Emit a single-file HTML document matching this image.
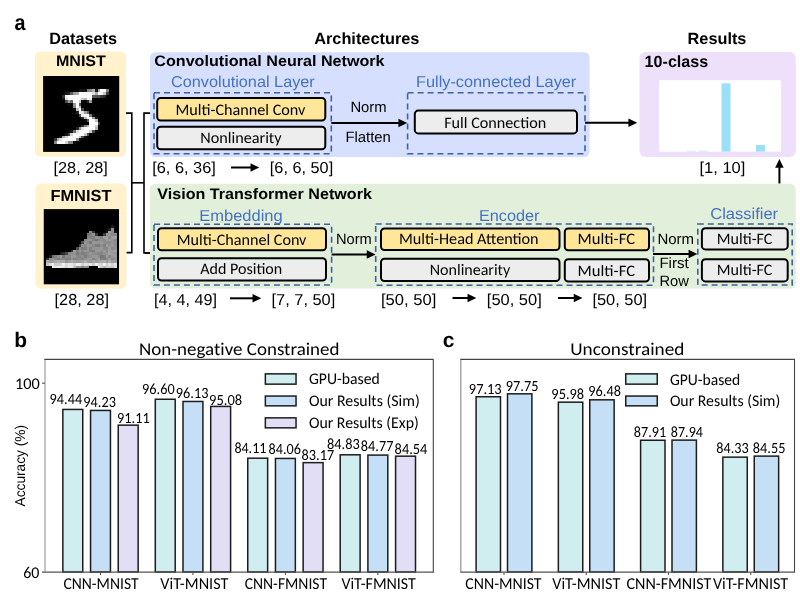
<!DOCTYPE html>
<html><head><meta charset="utf-8"><title>Figure</title><style>
html,body{margin:0;padding:0;background:#fff;}
svg{display:block;will-change:transform;}
text{text-rendering:geometricPrecision;}
.ar{font-family:"Liberation Sans",Arial,Helvetica,sans-serif;}
.ca{font-family:Carlito,"Liberation Sans",Arial,sans-serif;}
.cc{font-family:Carlito,"Liberation Sans",Arial,sans-serif;font-variant-ligatures:none;font-feature-settings:"liga" 0;}
</style></head><body>
<svg width="800" height="597" viewBox="0 0 800 597">
<rect x="0" y="0" width="800" height="597" fill="#fff"/>
<text x="14.40" y="29.60" font-size="22" class="ar" font-weight="bold" textLength="11.00" lengthAdjust="spacingAndGlyphs">a</text>
<text x="49.30" y="43.75" font-size="16.3" class="ar" font-weight="bold" textLength="67.80" lengthAdjust="spacingAndGlyphs">Datasets</text>
<text x="314.20" y="43.75" font-size="16.3" class="ar" font-weight="bold" textLength="105.20" lengthAdjust="spacingAndGlyphs">Architectures</text>
<text x="687.60" y="44.10" font-size="16.3" class="ar" font-weight="bold" textLength="58.80" lengthAdjust="spacingAndGlyphs">Results</text>
<rect x="34.90" y="51.50" width="91.10" height="105.20" rx="5.5" fill="#FFF2CC"/>
<rect x="35.30" y="183.60" width="91.30" height="105.10" rx="5.5" fill="#FFF2CC"/>
<text x="55.90" y="66.25" font-size="15.4" class="ar" font-weight="bold" textLength="50.00" lengthAdjust="spacingAndGlyphs">MNIST</text>
<text x="50.40" y="201.10" font-size="16.0" class="ar" font-weight="bold" textLength="61.00" lengthAdjust="spacingAndGlyphs">FMNIST</text>
<text x="53.50" y="173.20" font-size="15.8" class="ar" textLength="54.30" lengthAdjust="spacingAndGlyphs">[28, 28]</text>
<text x="54.60" y="305.30" font-size="16.0" class="ar" textLength="54.40" lengthAdjust="spacingAndGlyphs">[28, 28]</text>
<path d="M126,113.1 H131.8 V252.6 H126.6" fill="none" stroke="#000" stroke-width="1.6"/>
<path d="M131.8,182.8 H144" fill="none" stroke="#000" stroke-width="1.6"/>
<path d="M150,113.1 H144 V253 H150" fill="none" stroke="#000" stroke-width="1.6"/>
<rect x="150.00" y="52.20" width="439.60" height="104.90" rx="5.5" fill="#D6DFFD"/>
<text x="154.30" y="66.30" font-size="15.2" class="ar" font-weight="bold" textLength="230.30" lengthAdjust="spacingAndGlyphs">Convolutional Neural Network</text>
<text x="171.00" y="87.00" font-size="15.8" class="ar" fill="#4472C4" textLength="143.80" lengthAdjust="spacingAndGlyphs">Convolutional Layer</text>
<text x="416.00" y="87.40" font-size="15.8" class="ar" fill="#4472C4" textLength="160.30" lengthAdjust="spacingAndGlyphs">Fully-connected Layer</text>
<rect x="154.00" y="92.75" width="177.30" height="61.00" fill="none" stroke="#3D61A2" stroke-width="1.6" stroke-dasharray="6 4"/>
<rect x="407.60" y="92.75" width="177.40" height="61.00" fill="none" stroke="#3D61A2" stroke-width="1.6" stroke-dasharray="6 4"/>
<rect x="157.20" y="97.90" width="168.10" height="22.70" rx="3.5" fill="#FFE699" stroke="#000" stroke-width="2.0"/>
<rect x="157.20" y="126.80" width="168.10" height="22.40" rx="3.5" fill="#EDEDED" stroke="#000" stroke-width="2.0"/>
<text x="175.40" y="114.50" font-size="16" class="ca" textLength="130.00" lengthAdjust="spacingAndGlyphs">Multi-Channel Conv</text>
<text x="200.30" y="143.20" font-size="16" class="ca" textLength="81.30" lengthAdjust="spacingAndGlyphs">Nonlinearity</text>
<text x="350.40" y="111.50" font-size="15" class="ar" textLength="36.20" lengthAdjust="spacingAndGlyphs">Norm</text>
<text x="345.40" y="141.80" font-size="15" class="ar" textLength="45.40" lengthAdjust="spacingAndGlyphs">Flatten</text>
<line x1="331.30" y1="123.00" x2="399.45" y2="123.00" stroke="#000" stroke-width="2.0"/>
<polygon points="407.20,123.00 398.45,118.75 398.45,127.25" fill="#000"/>
<rect x="414.80" y="110.60" width="162.20" height="22.80" rx="3.5" fill="#EDEDED" stroke="#000" stroke-width="2.0"/>
<text x="444.20" y="127.50" font-size="16" class="ca" textLength="102.00" lengthAdjust="spacingAndGlyphs">Full Connection</text>
<line x1="585.00" y1="122.70" x2="629.45" y2="122.70" stroke="#000" stroke-width="2.0"/>
<polygon points="637.20,122.70 628.45,118.45 628.45,126.95" fill="#000"/>
<rect x="639.50" y="52.10" width="156.30" height="104.90" rx="6" fill="#EEE0FA"/>
<text x="644.60" y="66.70" font-size="16.3" class="ar" font-weight="bold" textLength="63.60" lengthAdjust="spacingAndGlyphs">10-class</text>
<rect x="659.00" y="80.20" width="122.00" height="71.40" fill="#fff"/>
<rect x="687.00" y="150.60" width="9.00" height="1.00" fill="#CFEFFB"/>
<rect x="698.50" y="150.40" width="9.00" height="1.20" fill="#CFEFFB"/>
<rect x="721.50" y="83.30" width="9.00" height="68.30" fill="#9CDFF8"/>
<rect x="756.00" y="145.00" width="9.00" height="6.60" fill="#9CDFF8"/>
<text x="699.50" y="173.00" font-size="15.8" class="ar" textLength="45.80" lengthAdjust="spacingAndGlyphs">[1, 10]</text>
<line x1="779.40" y1="183.60" x2="779.40" y2="166.75" stroke="#000" stroke-width="2.0"/>
<polygon points="779.40,159.00 775.15,167.75 783.65,167.75" fill="#000"/>
<text x="152.20" y="173.20" font-size="15.8" class="ar" textLength="63.60" lengthAdjust="spacingAndGlyphs">[6, 6, 36]</text>
<line x1="231.00" y1="167.50" x2="251.55" y2="167.50" stroke="#000" stroke-width="2.0"/>
<polygon points="259.30,167.50 250.55,163.25 250.55,171.75" fill="#000"/>
<text x="269.80" y="173.20" font-size="15.8" class="ar" textLength="63.40" lengthAdjust="spacingAndGlyphs">[6, 6, 50]</text>
<rect x="150.00" y="183.70" width="645.80" height="104.80" rx="5.5" fill="#E2EFDA"/>
<text x="157.30" y="199.30" font-size="15.2" class="ar" font-weight="bold" textLength="214.60" lengthAdjust="spacingAndGlyphs">Vision Transformer Network</text>
<text x="199.30" y="220.50" font-size="15.8" class="ar" fill="#4472C4" textLength="83.40" lengthAdjust="spacingAndGlyphs">Embedding</text>
<text x="478.90" y="220.50" font-size="15.8" class="ar" fill="#4472C4" textLength="60.60" lengthAdjust="spacingAndGlyphs">Encoder</text>
<text x="710.30" y="219.10" font-size="15.8" class="ar" fill="#4472C4" textLength="67.80" lengthAdjust="spacingAndGlyphs">Classifier</text>
<rect x="154.00" y="224.25" width="177.60" height="60.75" fill="none" stroke="#3D61A2" stroke-width="1.6" stroke-dasharray="6 4"/>
<rect x="375.70" y="224.00" width="277.80" height="61.20" fill="none" stroke="#3D61A2" stroke-width="1.6" stroke-dasharray="6 4"/>
<rect x="697.80" y="224.00" width="94.40" height="61.00" fill="none" stroke="#3D61A2" stroke-width="1.6" stroke-dasharray="6 4"/>
<rect x="158.00" y="228.30" width="168.00" height="21.90" rx="3.5" fill="#FFE699" stroke="#000" stroke-width="2.0"/>
<rect x="158.00" y="258.30" width="168.00" height="22.30" rx="3.5" fill="#EDEDED" stroke="#000" stroke-width="2.0"/>
<text x="176.80" y="244.50" font-size="16" class="ca" textLength="129.60" lengthAdjust="spacingAndGlyphs">Multi-Channel Conv</text>
<text x="200.30" y="273.80" font-size="16" class="ca" textLength="81.90" lengthAdjust="spacingAndGlyphs">Add Position</text>
<text x="336.00" y="244.10" font-size="15" class="ar" textLength="35.80" lengthAdjust="spacingAndGlyphs">Norm</text>
<line x1="331.60" y1="254.60" x2="367.75" y2="254.60" stroke="#000" stroke-width="2.0"/>
<polygon points="375.50,254.60 366.75,250.35 366.75,258.85" fill="#000"/>
<rect x="381.00" y="228.50" width="178.50" height="21.60" rx="3.5" fill="#FFE699" stroke="#000" stroke-width="2.0"/>
<rect x="381.00" y="258.80" width="178.50" height="22.20" rx="3.5" fill="#EDEDED" stroke="#000" stroke-width="2.0"/>
<rect x="564.80" y="228.50" width="84.20" height="21.70" rx="3.5" fill="#FFE699" stroke="#000" stroke-width="2.0"/>
<rect x="564.80" y="259.30" width="84.20" height="22.30" rx="3.5" fill="#EDEDED" stroke="#000" stroke-width="2.0"/>
<text x="399.00" y="244.30" font-size="16" class="ca" textLength="139.60" lengthAdjust="spacingAndGlyphs">Multi-Head Attention</text>
<text x="429.80" y="275.00" font-size="16" class="ca" textLength="80.40" lengthAdjust="spacingAndGlyphs">Nonlinearity</text>
<text x="577.60" y="244.20" font-size="16" class="ca" textLength="57.40" lengthAdjust="spacingAndGlyphs">Multi-FC</text>
<text x="577.60" y="275.60" font-size="16" class="ca" textLength="57.40" lengthAdjust="spacingAndGlyphs">Multi-FC</text>
<text x="657.40" y="243.70" font-size="15" class="ar" textLength="36.60" lengthAdjust="spacingAndGlyphs">Norm</text>
<text x="659.40" y="268.40" font-size="15" class="ar" textLength="29.40" lengthAdjust="spacingAndGlyphs">First</text>
<text x="659.40" y="286.00" font-size="15" class="ar" textLength="29.40" lengthAdjust="spacingAndGlyphs">Row</text>
<line x1="653.00" y1="254.00" x2="689.55" y2="254.00" stroke="#000" stroke-width="2.0"/>
<polygon points="697.30,254.00 688.55,249.75 688.55,258.25" fill="#000"/>
<rect x="701.90" y="228.20" width="85.80" height="21.20" rx="3.5" fill="#EDEDED" stroke="#000" stroke-width="2.0"/>
<rect x="701.90" y="259.30" width="85.80" height="22.10" rx="3.5" fill="#EDEDED" stroke="#000" stroke-width="2.0"/>
<text x="716.80" y="244.00" font-size="16" class="ca" textLength="55.60" lengthAdjust="spacingAndGlyphs">Multi-FC</text>
<text x="716.80" y="275.40" font-size="16" class="ca" textLength="55.60" lengthAdjust="spacingAndGlyphs">Multi-FC</text>
<line x1="145" y1="253" x2="150" y2="253" stroke="#000" stroke-width="1.6"/>
<text x="154.00" y="304.50" font-size="15.8" class="ar" textLength="63.00" lengthAdjust="spacingAndGlyphs">[4, 4, 49]</text>
<line x1="230.00" y1="298.30" x2="253.55" y2="298.30" stroke="#000" stroke-width="2.0"/>
<polygon points="261.30,298.30 252.55,294.05 252.55,302.55" fill="#000"/>
<text x="271.50" y="304.50" font-size="15.8" class="ar" textLength="63.80" lengthAdjust="spacingAndGlyphs">[7, 7, 50]</text>
<text x="381.00" y="304.50" font-size="15.8" class="ar" textLength="55.30" lengthAdjust="spacingAndGlyphs">[50, 50]</text>
<line x1="452.50" y1="298.00" x2="468.55" y2="298.00" stroke="#000" stroke-width="2.0"/>
<polygon points="476.30,298.00 467.55,293.75 467.55,302.25" fill="#000"/>
<text x="486.80" y="304.50" font-size="15.8" class="ar" textLength="55.00" lengthAdjust="spacingAndGlyphs">[50, 50]</text>
<line x1="558.00" y1="298.00" x2="574.75" y2="298.00" stroke="#000" stroke-width="2.0"/>
<polygon points="582.50,298.00 573.75,293.75 573.75,302.25" fill="#000"/>
<text x="592.40" y="304.50" font-size="15.8" class="ar" textLength="54.80" lengthAdjust="spacingAndGlyphs">[50, 50]</text>
<defs><filter id="bl" x="0" y="0" width="1" height="1"><feGaussianBlur stdDeviation="0.7"/></filter><clipPath id="c1"><rect x="43.06" y="75.9" width="76.4" height="76"/></clipPath><clipPath id="c2"><rect x="43.5" y="209.1" width="75.7" height="75.5"/></clipPath></defs>
<g clip-path="url(#c1)">
<rect x="43.06" y="75.90" width="76.40" height="76.00" fill="#000"/>
<g filter="url(#bl)" shape-rendering="crispEdges">
<rect x="75.80" y="89.47" width="2.75" height="2.73" fill="rgb(3,3,3)"/>
<rect x="78.53" y="89.47" width="2.75" height="2.73" fill="rgb(18,18,18)"/>
<rect x="81.26" y="89.47" width="2.75" height="2.73" fill="rgb(18,18,18)"/>
<rect x="83.99" y="89.47" width="2.75" height="2.73" fill="rgb(18,18,18)"/>
<rect x="86.72" y="89.47" width="2.75" height="2.73" fill="rgb(126,126,126)"/>
<rect x="89.45" y="89.47" width="2.75" height="2.73" fill="rgb(136,136,136)"/>
<rect x="92.17" y="89.47" width="2.75" height="2.73" fill="rgb(175,175,175)"/>
<rect x="94.90" y="89.47" width="2.75" height="2.73" fill="rgb(26,26,26)"/>
<rect x="97.63" y="89.47" width="2.75" height="2.73" fill="rgb(166,166,166)"/>
<rect x="100.36" y="89.47" width="2.75" height="2.73" fill="rgb(255,255,255)"/>
<rect x="103.09" y="89.47" width="2.75" height="2.73" fill="rgb(247,247,247)"/>
<rect x="105.82" y="89.47" width="2.75" height="2.73" fill="rgb(127,127,127)"/>
<rect x="64.89" y="92.19" width="2.75" height="2.73" fill="rgb(30,30,30)"/>
<rect x="67.62" y="92.19" width="2.75" height="2.73" fill="rgb(36,36,36)"/>
<rect x="70.35" y="92.19" width="2.75" height="2.73" fill="rgb(94,94,94)"/>
<rect x="73.07" y="92.19" width="2.75" height="2.73" fill="rgb(154,154,154)"/>
<rect x="75.80" y="92.19" width="2.75" height="2.73" fill="rgb(170,170,170)"/>
<rect x="78.53" y="92.19" width="2.75" height="2.73" fill="rgb(253,253,253)"/>
<rect x="81.26" y="92.19" width="2.75" height="2.73" fill="rgb(253,253,253)"/>
<rect x="83.99" y="92.19" width="2.75" height="2.73" fill="rgb(253,253,253)"/>
<rect x="86.72" y="92.19" width="2.75" height="2.73" fill="rgb(253,253,253)"/>
<rect x="89.45" y="92.19" width="2.75" height="2.73" fill="rgb(253,253,253)"/>
<rect x="92.17" y="92.19" width="2.75" height="2.73" fill="rgb(225,225,225)"/>
<rect x="94.90" y="92.19" width="2.75" height="2.73" fill="rgb(172,172,172)"/>
<rect x="97.63" y="92.19" width="2.75" height="2.73" fill="rgb(253,253,253)"/>
<rect x="100.36" y="92.19" width="2.75" height="2.73" fill="rgb(242,242,242)"/>
<rect x="103.09" y="92.19" width="2.75" height="2.73" fill="rgb(195,195,195)"/>
<rect x="105.82" y="92.19" width="2.75" height="2.73" fill="rgb(64,64,64)"/>
<rect x="62.16" y="94.90" width="2.75" height="2.73" fill="rgb(49,49,49)"/>
<rect x="64.89" y="94.90" width="2.75" height="2.73" fill="rgb(238,238,238)"/>
<rect x="67.62" y="94.90" width="2.75" height="2.73" fill="rgb(253,253,253)"/>
<rect x="70.35" y="94.90" width="2.75" height="2.73" fill="rgb(253,253,253)"/>
<rect x="73.07" y="94.90" width="2.75" height="2.73" fill="rgb(253,253,253)"/>
<rect x="75.80" y="94.90" width="2.75" height="2.73" fill="rgb(253,253,253)"/>
<rect x="78.53" y="94.90" width="2.75" height="2.73" fill="rgb(253,253,253)"/>
<rect x="81.26" y="94.90" width="2.75" height="2.73" fill="rgb(253,253,253)"/>
<rect x="83.99" y="94.90" width="2.75" height="2.73" fill="rgb(253,253,253)"/>
<rect x="86.72" y="94.90" width="2.75" height="2.73" fill="rgb(253,253,253)"/>
<rect x="89.45" y="94.90" width="2.75" height="2.73" fill="rgb(251,251,251)"/>
<rect x="92.17" y="94.90" width="2.75" height="2.73" fill="rgb(93,93,93)"/>
<rect x="94.90" y="94.90" width="2.75" height="2.73" fill="rgb(82,82,82)"/>
<rect x="97.63" y="94.90" width="2.75" height="2.73" fill="rgb(82,82,82)"/>
<rect x="100.36" y="94.90" width="2.75" height="2.73" fill="rgb(56,56,56)"/>
<rect x="103.09" y="94.90" width="2.75" height="2.73" fill="rgb(39,39,39)"/>
<rect x="62.16" y="97.61" width="2.75" height="2.73" fill="rgb(18,18,18)"/>
<rect x="64.89" y="97.61" width="2.75" height="2.73" fill="rgb(219,219,219)"/>
<rect x="67.62" y="97.61" width="2.75" height="2.73" fill="rgb(253,253,253)"/>
<rect x="70.35" y="97.61" width="2.75" height="2.73" fill="rgb(253,253,253)"/>
<rect x="73.07" y="97.61" width="2.75" height="2.73" fill="rgb(253,253,253)"/>
<rect x="75.80" y="97.61" width="2.75" height="2.73" fill="rgb(253,253,253)"/>
<rect x="78.53" y="97.61" width="2.75" height="2.73" fill="rgb(253,253,253)"/>
<rect x="81.26" y="97.61" width="2.75" height="2.73" fill="rgb(198,198,198)"/>
<rect x="83.99" y="97.61" width="2.75" height="2.73" fill="rgb(182,182,182)"/>
<rect x="86.72" y="97.61" width="2.75" height="2.73" fill="rgb(247,247,247)"/>
<rect x="89.45" y="97.61" width="2.75" height="2.73" fill="rgb(241,241,241)"/>
<rect x="64.89" y="100.33" width="2.75" height="2.73" fill="rgb(80,80,80)"/>
<rect x="67.62" y="100.33" width="2.75" height="2.73" fill="rgb(156,156,156)"/>
<rect x="70.35" y="100.33" width="2.75" height="2.73" fill="rgb(107,107,107)"/>
<rect x="73.07" y="100.33" width="2.75" height="2.73" fill="rgb(253,253,253)"/>
<rect x="75.80" y="100.33" width="2.75" height="2.73" fill="rgb(253,253,253)"/>
<rect x="78.53" y="100.33" width="2.75" height="2.73" fill="rgb(205,205,205)"/>
<rect x="81.26" y="100.33" width="2.75" height="2.73" fill="rgb(11,11,11)"/>
<rect x="86.72" y="100.33" width="2.75" height="2.73" fill="rgb(43,43,43)"/>
<rect x="89.45" y="100.33" width="2.75" height="2.73" fill="rgb(154,154,154)"/>
<rect x="67.62" y="103.04" width="2.75" height="2.73" fill="rgb(14,14,14)"/>
<rect x="73.07" y="103.04" width="2.75" height="2.73" fill="rgb(154,154,154)"/>
<rect x="75.80" y="103.04" width="2.75" height="2.73" fill="rgb(253,253,253)"/>
<rect x="78.53" y="103.04" width="2.75" height="2.73" fill="rgb(90,90,90)"/>
<rect x="73.07" y="105.76" width="2.75" height="2.73" fill="rgb(139,139,139)"/>
<rect x="75.80" y="105.76" width="2.75" height="2.73" fill="rgb(253,253,253)"/>
<rect x="78.53" y="105.76" width="2.75" height="2.73" fill="rgb(190,190,190)"/>
<rect x="73.07" y="108.47" width="2.75" height="2.73" fill="rgb(11,11,11)"/>
<rect x="75.80" y="108.47" width="2.75" height="2.73" fill="rgb(190,190,190)"/>
<rect x="78.53" y="108.47" width="2.75" height="2.73" fill="rgb(253,253,253)"/>
<rect x="81.26" y="108.47" width="2.75" height="2.73" fill="rgb(70,70,70)"/>
<rect x="75.80" y="111.19" width="2.75" height="2.73" fill="rgb(35,35,35)"/>
<rect x="78.53" y="111.19" width="2.75" height="2.73" fill="rgb(241,241,241)"/>
<rect x="81.26" y="111.19" width="2.75" height="2.73" fill="rgb(225,225,225)"/>
<rect x="83.99" y="111.19" width="2.75" height="2.73" fill="rgb(160,160,160)"/>
<rect x="86.72" y="111.19" width="2.75" height="2.73" fill="rgb(108,108,108)"/>
<rect x="78.53" y="113.90" width="2.75" height="2.73" fill="rgb(81,81,81)"/>
<rect x="81.26" y="113.90" width="2.75" height="2.73" fill="rgb(240,240,240)"/>
<rect x="83.99" y="113.90" width="2.75" height="2.73" fill="rgb(253,253,253)"/>
<rect x="86.72" y="113.90" width="2.75" height="2.73" fill="rgb(253,253,253)"/>
<rect x="89.45" y="113.90" width="2.75" height="2.73" fill="rgb(119,119,119)"/>
<rect x="92.17" y="113.90" width="2.75" height="2.73" fill="rgb(25,25,25)"/>
<rect x="81.26" y="116.61" width="2.75" height="2.73" fill="rgb(45,45,45)"/>
<rect x="83.99" y="116.61" width="2.75" height="2.73" fill="rgb(186,186,186)"/>
<rect x="86.72" y="116.61" width="2.75" height="2.73" fill="rgb(253,253,253)"/>
<rect x="89.45" y="116.61" width="2.75" height="2.73" fill="rgb(253,253,253)"/>
<rect x="92.17" y="116.61" width="2.75" height="2.73" fill="rgb(150,150,150)"/>
<rect x="94.90" y="116.61" width="2.75" height="2.73" fill="rgb(27,27,27)"/>
<rect x="83.99" y="119.33" width="2.75" height="2.73" fill="rgb(16,16,16)"/>
<rect x="86.72" y="119.33" width="2.75" height="2.73" fill="rgb(93,93,93)"/>
<rect x="89.45" y="119.33" width="2.75" height="2.73" fill="rgb(252,252,252)"/>
<rect x="92.17" y="119.33" width="2.75" height="2.73" fill="rgb(253,253,253)"/>
<rect x="94.90" y="119.33" width="2.75" height="2.73" fill="rgb(187,187,187)"/>
<rect x="89.45" y="122.04" width="2.75" height="2.73" fill="rgb(249,249,249)"/>
<rect x="92.17" y="122.04" width="2.75" height="2.73" fill="rgb(253,253,253)"/>
<rect x="94.90" y="122.04" width="2.75" height="2.73" fill="rgb(249,249,249)"/>
<rect x="97.63" y="122.04" width="2.75" height="2.73" fill="rgb(64,64,64)"/>
<rect x="81.26" y="124.76" width="2.75" height="2.73" fill="rgb(46,46,46)"/>
<rect x="83.99" y="124.76" width="2.75" height="2.73" fill="rgb(130,130,130)"/>
<rect x="86.72" y="124.76" width="2.75" height="2.73" fill="rgb(183,183,183)"/>
<rect x="89.45" y="124.76" width="2.75" height="2.73" fill="rgb(253,253,253)"/>
<rect x="92.17" y="124.76" width="2.75" height="2.73" fill="rgb(253,253,253)"/>
<rect x="94.90" y="124.76" width="2.75" height="2.73" fill="rgb(207,207,207)"/>
<rect x="75.80" y="127.47" width="2.75" height="2.73" fill="rgb(39,39,39)"/>
<rect x="78.53" y="127.47" width="2.75" height="2.73" fill="rgb(148,148,148)"/>
<rect x="81.26" y="127.47" width="2.75" height="2.73" fill="rgb(229,229,229)"/>
<rect x="83.99" y="127.47" width="2.75" height="2.73" fill="rgb(253,253,253)"/>
<rect x="86.72" y="127.47" width="2.75" height="2.73" fill="rgb(253,253,253)"/>
<rect x="89.45" y="127.47" width="2.75" height="2.73" fill="rgb(253,253,253)"/>
<rect x="92.17" y="127.47" width="2.75" height="2.73" fill="rgb(250,250,250)"/>
<rect x="94.90" y="127.47" width="2.75" height="2.73" fill="rgb(182,182,182)"/>
<rect x="70.35" y="130.19" width="2.75" height="2.73" fill="rgb(24,24,24)"/>
<rect x="73.07" y="130.19" width="2.75" height="2.73" fill="rgb(114,114,114)"/>
<rect x="75.80" y="130.19" width="2.75" height="2.73" fill="rgb(221,221,221)"/>
<rect x="78.53" y="130.19" width="2.75" height="2.73" fill="rgb(253,253,253)"/>
<rect x="81.26" y="130.19" width="2.75" height="2.73" fill="rgb(253,253,253)"/>
<rect x="83.99" y="130.19" width="2.75" height="2.73" fill="rgb(253,253,253)"/>
<rect x="86.72" y="130.19" width="2.75" height="2.73" fill="rgb(253,253,253)"/>
<rect x="89.45" y="130.19" width="2.75" height="2.73" fill="rgb(201,201,201)"/>
<rect x="92.17" y="130.19" width="2.75" height="2.73" fill="rgb(78,78,78)"/>
<rect x="64.89" y="132.90" width="2.75" height="2.73" fill="rgb(23,23,23)"/>
<rect x="67.62" y="132.90" width="2.75" height="2.73" fill="rgb(66,66,66)"/>
<rect x="70.35" y="132.90" width="2.75" height="2.73" fill="rgb(213,213,213)"/>
<rect x="73.07" y="132.90" width="2.75" height="2.73" fill="rgb(253,253,253)"/>
<rect x="75.80" y="132.90" width="2.75" height="2.73" fill="rgb(253,253,253)"/>
<rect x="78.53" y="132.90" width="2.75" height="2.73" fill="rgb(253,253,253)"/>
<rect x="81.26" y="132.90" width="2.75" height="2.73" fill="rgb(253,253,253)"/>
<rect x="83.99" y="132.90" width="2.75" height="2.73" fill="rgb(198,198,198)"/>
<rect x="86.72" y="132.90" width="2.75" height="2.73" fill="rgb(81,81,81)"/>
<rect x="59.43" y="135.61" width="2.75" height="2.73" fill="rgb(18,18,18)"/>
<rect x="62.16" y="135.61" width="2.75" height="2.73" fill="rgb(171,171,171)"/>
<rect x="64.89" y="135.61" width="2.75" height="2.73" fill="rgb(219,219,219)"/>
<rect x="67.62" y="135.61" width="2.75" height="2.73" fill="rgb(253,253,253)"/>
<rect x="70.35" y="135.61" width="2.75" height="2.73" fill="rgb(253,253,253)"/>
<rect x="73.07" y="135.61" width="2.75" height="2.73" fill="rgb(253,253,253)"/>
<rect x="75.80" y="135.61" width="2.75" height="2.73" fill="rgb(253,253,253)"/>
<rect x="78.53" y="135.61" width="2.75" height="2.73" fill="rgb(195,195,195)"/>
<rect x="81.26" y="135.61" width="2.75" height="2.73" fill="rgb(80,80,80)"/>
<rect x="83.99" y="135.61" width="2.75" height="2.73" fill="rgb(9,9,9)"/>
<rect x="53.97" y="138.33" width="2.75" height="2.73" fill="rgb(55,55,55)"/>
<rect x="56.70" y="138.33" width="2.75" height="2.73" fill="rgb(172,172,172)"/>
<rect x="59.43" y="138.33" width="2.75" height="2.73" fill="rgb(226,226,226)"/>
<rect x="62.16" y="138.33" width="2.75" height="2.73" fill="rgb(253,253,253)"/>
<rect x="64.89" y="138.33" width="2.75" height="2.73" fill="rgb(253,253,253)"/>
<rect x="67.62" y="138.33" width="2.75" height="2.73" fill="rgb(253,253,253)"/>
<rect x="70.35" y="138.33" width="2.75" height="2.73" fill="rgb(253,253,253)"/>
<rect x="73.07" y="138.33" width="2.75" height="2.73" fill="rgb(244,244,244)"/>
<rect x="75.80" y="138.33" width="2.75" height="2.73" fill="rgb(133,133,133)"/>
<rect x="78.53" y="138.33" width="2.75" height="2.73" fill="rgb(11,11,11)"/>
<rect x="53.97" y="141.04" width="2.75" height="2.73" fill="rgb(136,136,136)"/>
<rect x="56.70" y="141.04" width="2.75" height="2.73" fill="rgb(253,253,253)"/>
<rect x="59.43" y="141.04" width="2.75" height="2.73" fill="rgb(253,253,253)"/>
<rect x="62.16" y="141.04" width="2.75" height="2.73" fill="rgb(253,253,253)"/>
<rect x="64.89" y="141.04" width="2.75" height="2.73" fill="rgb(212,212,212)"/>
<rect x="67.62" y="141.04" width="2.75" height="2.73" fill="rgb(135,135,135)"/>
<rect x="70.35" y="141.04" width="2.75" height="2.73" fill="rgb(132,132,132)"/>
<rect x="73.07" y="141.04" width="2.75" height="2.73" fill="rgb(16,16,16)"/>
</g>
</g>
<g clip-path="url(#c2)">
<rect x="43.50" y="209.10" width="75.70" height="75.50" fill="#000"/>
<g filter="url(#bl)" shape-rendering="crispEdges">
<rect x="111.09" y="225.28" width="2.72" height="2.72" fill="rgb(27,27,27)"/>
<rect x="108.39" y="227.97" width="2.72" height="2.72" fill="rgb(29,29,29)"/>
<rect x="111.09" y="227.97" width="2.72" height="2.72" fill="rgb(145,145,145)"/>
<rect x="89.46" y="230.67" width="2.72" height="2.72" fill="rgb(135,135,135)"/>
<rect x="92.16" y="230.67" width="2.72" height="2.72" fill="rgb(52,52,52)"/>
<rect x="105.68" y="230.67" width="2.72" height="2.72" fill="rgb(28,28,28)"/>
<rect x="108.39" y="230.67" width="2.72" height="2.72" fill="rgb(157,157,157)"/>
<rect x="111.09" y="230.67" width="2.72" height="2.72" fill="rgb(138,138,138)"/>
<rect x="113.79" y="230.67" width="2.72" height="2.72" fill="rgb(30,30,30)"/>
<rect x="86.76" y="233.37" width="2.72" height="2.72" fill="rgb(118,118,118)"/>
<rect x="89.46" y="233.37" width="2.72" height="2.72" fill="rgb(125,125,125)"/>
<rect x="92.16" y="233.37" width="2.72" height="2.72" fill="rgb(146,146,146)"/>
<rect x="94.87" y="233.37" width="2.72" height="2.72" fill="rgb(55,55,55)"/>
<rect x="102.98" y="233.37" width="2.72" height="2.72" fill="rgb(60,60,60)"/>
<rect x="105.68" y="233.37" width="2.72" height="2.72" fill="rgb(145,145,145)"/>
<rect x="108.39" y="233.37" width="2.72" height="2.72" fill="rgb(146,146,146)"/>
<rect x="111.09" y="233.37" width="2.72" height="2.72" fill="rgb(137,137,137)"/>
<rect x="113.79" y="233.37" width="2.72" height="2.72" fill="rgb(137,137,137)"/>
<rect x="86.76" y="236.06" width="2.72" height="2.72" fill="rgb(135,135,135)"/>
<rect x="89.46" y="236.06" width="2.72" height="2.72" fill="rgb(131,131,131)"/>
<rect x="92.16" y="236.06" width="2.72" height="2.72" fill="rgb(128,128,128)"/>
<rect x="94.87" y="236.06" width="2.72" height="2.72" fill="rgb(147,147,147)"/>
<rect x="97.57" y="236.06" width="2.72" height="2.72" fill="rgb(141,141,141)"/>
<rect x="100.28" y="236.06" width="2.72" height="2.72" fill="rgb(130,130,130)"/>
<rect x="102.98" y="236.06" width="2.72" height="2.72" fill="rgb(155,155,155)"/>
<rect x="105.68" y="236.06" width="2.72" height="2.72" fill="rgb(164,164,164)"/>
<rect x="108.39" y="236.06" width="2.72" height="2.72" fill="rgb(136,136,136)"/>
<rect x="111.09" y="236.06" width="2.72" height="2.72" fill="rgb(156,156,156)"/>
<rect x="113.79" y="236.06" width="2.72" height="2.72" fill="rgb(161,161,161)"/>
<rect x="84.05" y="238.76" width="2.72" height="2.72" fill="rgb(138,138,138)"/>
<rect x="86.76" y="238.76" width="2.72" height="2.72" fill="rgb(150,150,150)"/>
<rect x="89.46" y="238.76" width="2.72" height="2.72" fill="rgb(149,149,149)"/>
<rect x="92.16" y="238.76" width="2.72" height="2.72" fill="rgb(129,129,129)"/>
<rect x="94.87" y="238.76" width="2.72" height="2.72" fill="rgb(118,118,118)"/>
<rect x="97.57" y="238.76" width="2.72" height="2.72" fill="rgb(139,139,139)"/>
<rect x="100.28" y="238.76" width="2.72" height="2.72" fill="rgb(144,144,144)"/>
<rect x="102.98" y="238.76" width="2.72" height="2.72" fill="rgb(139,139,139)"/>
<rect x="105.68" y="238.76" width="2.72" height="2.72" fill="rgb(156,156,156)"/>
<rect x="108.39" y="238.76" width="2.72" height="2.72" fill="rgb(156,156,156)"/>
<rect x="111.09" y="238.76" width="2.72" height="2.72" fill="rgb(149,149,149)"/>
<rect x="113.79" y="238.76" width="2.72" height="2.72" fill="rgb(136,136,136)"/>
<rect x="81.35" y="241.46" width="2.72" height="2.72" fill="rgb(80,80,80)"/>
<rect x="84.05" y="241.46" width="2.72" height="2.72" fill="rgb(149,149,149)"/>
<rect x="86.76" y="241.46" width="2.72" height="2.72" fill="rgb(140,140,140)"/>
<rect x="89.46" y="241.46" width="2.72" height="2.72" fill="rgb(122,122,122)"/>
<rect x="92.16" y="241.46" width="2.72" height="2.72" fill="rgb(153,153,153)"/>
<rect x="94.87" y="241.46" width="2.72" height="2.72" fill="rgb(148,148,148)"/>
<rect x="97.57" y="241.46" width="2.72" height="2.72" fill="rgb(148,148,148)"/>
<rect x="100.28" y="241.46" width="2.72" height="2.72" fill="rgb(153,153,153)"/>
<rect x="102.98" y="241.46" width="2.72" height="2.72" fill="rgb(141,141,141)"/>
<rect x="105.68" y="241.46" width="2.72" height="2.72" fill="rgb(138,138,138)"/>
<rect x="108.39" y="241.46" width="2.72" height="2.72" fill="rgb(141,141,141)"/>
<rect x="111.09" y="241.46" width="2.72" height="2.72" fill="rgb(147,147,147)"/>
<rect x="113.79" y="241.46" width="2.72" height="2.72" fill="rgb(139,139,139)"/>
<rect x="78.65" y="244.15" width="2.72" height="2.72" fill="rgb(60,60,60)"/>
<rect x="81.35" y="244.15" width="2.72" height="2.72" fill="rgb(145,145,145)"/>
<rect x="84.05" y="244.15" width="2.72" height="2.72" fill="rgb(135,135,135)"/>
<rect x="86.76" y="244.15" width="2.72" height="2.72" fill="rgb(157,157,157)"/>
<rect x="89.46" y="244.15" width="2.72" height="2.72" fill="rgb(148,148,148)"/>
<rect x="92.16" y="244.15" width="2.72" height="2.72" fill="rgb(139,139,139)"/>
<rect x="94.87" y="244.15" width="2.72" height="2.72" fill="rgb(125,125,125)"/>
<rect x="97.57" y="244.15" width="2.72" height="2.72" fill="rgb(125,125,125)"/>
<rect x="100.28" y="244.15" width="2.72" height="2.72" fill="rgb(142,142,142)"/>
<rect x="102.98" y="244.15" width="2.72" height="2.72" fill="rgb(130,130,130)"/>
<rect x="105.68" y="244.15" width="2.72" height="2.72" fill="rgb(156,156,156)"/>
<rect x="108.39" y="244.15" width="2.72" height="2.72" fill="rgb(146,146,146)"/>
<rect x="111.09" y="244.15" width="2.72" height="2.72" fill="rgb(152,152,152)"/>
<rect x="113.79" y="244.15" width="2.72" height="2.72" fill="rgb(140,140,140)"/>
<rect x="75.94" y="246.85" width="2.72" height="2.72" fill="rgb(80,80,80)"/>
<rect x="78.65" y="246.85" width="2.72" height="2.72" fill="rgb(141,141,141)"/>
<rect x="81.35" y="246.85" width="2.72" height="2.72" fill="rgb(126,126,126)"/>
<rect x="84.05" y="246.85" width="2.72" height="2.72" fill="rgb(127,127,127)"/>
<rect x="86.76" y="246.85" width="2.72" height="2.72" fill="rgb(149,149,149)"/>
<rect x="89.46" y="246.85" width="2.72" height="2.72" fill="rgb(131,131,131)"/>
<rect x="92.16" y="246.85" width="2.72" height="2.72" fill="rgb(146,146,146)"/>
<rect x="94.87" y="246.85" width="2.72" height="2.72" fill="rgb(151,151,151)"/>
<rect x="97.57" y="246.85" width="2.72" height="2.72" fill="rgb(146,146,146)"/>
<rect x="100.28" y="246.85" width="2.72" height="2.72" fill="rgb(152,152,152)"/>
<rect x="102.98" y="246.85" width="2.72" height="2.72" fill="rgb(136,136,136)"/>
<rect x="105.68" y="246.85" width="2.72" height="2.72" fill="rgb(137,137,137)"/>
<rect x="108.39" y="246.85" width="2.72" height="2.72" fill="rgb(157,157,157)"/>
<rect x="111.09" y="246.85" width="2.72" height="2.72" fill="rgb(137,137,137)"/>
<rect x="113.79" y="246.85" width="2.72" height="2.72" fill="rgb(145,145,145)"/>
<rect x="70.54" y="249.55" width="2.72" height="2.72" fill="rgb(48,48,48)"/>
<rect x="73.24" y="249.55" width="2.72" height="2.72" fill="rgb(157,157,157)"/>
<rect x="75.94" y="249.55" width="2.72" height="2.72" fill="rgb(130,130,130)"/>
<rect x="78.65" y="249.55" width="2.72" height="2.72" fill="rgb(153,153,153)"/>
<rect x="81.35" y="249.55" width="2.72" height="2.72" fill="rgb(138,138,138)"/>
<rect x="84.05" y="249.55" width="2.72" height="2.72" fill="rgb(150,150,150)"/>
<rect x="86.76" y="249.55" width="2.72" height="2.72" fill="rgb(150,150,150)"/>
<rect x="89.46" y="249.55" width="2.72" height="2.72" fill="rgb(131,131,131)"/>
<rect x="92.16" y="249.55" width="2.72" height="2.72" fill="rgb(126,126,126)"/>
<rect x="94.87" y="249.55" width="2.72" height="2.72" fill="rgb(152,152,152)"/>
<rect x="97.57" y="249.55" width="2.72" height="2.72" fill="rgb(152,152,152)"/>
<rect x="100.28" y="249.55" width="2.72" height="2.72" fill="rgb(141,141,141)"/>
<rect x="102.98" y="249.55" width="2.72" height="2.72" fill="rgb(152,152,152)"/>
<rect x="105.68" y="249.55" width="2.72" height="2.72" fill="rgb(140,140,140)"/>
<rect x="108.39" y="249.55" width="2.72" height="2.72" fill="rgb(158,158,158)"/>
<rect x="111.09" y="249.55" width="2.72" height="2.72" fill="rgb(156,156,156)"/>
<rect x="113.79" y="249.55" width="2.72" height="2.72" fill="rgb(160,160,160)"/>
<rect x="59.72" y="252.24" width="2.72" height="2.72" fill="rgb(26,26,26)"/>
<rect x="62.42" y="252.24" width="2.72" height="2.72" fill="rgb(47,47,47)"/>
<rect x="65.13" y="252.24" width="2.72" height="2.72" fill="rgb(71,71,71)"/>
<rect x="67.83" y="252.24" width="2.72" height="2.72" fill="rgb(134,134,134)"/>
<rect x="70.54" y="252.24" width="2.72" height="2.72" fill="rgb(146,146,146)"/>
<rect x="73.24" y="252.24" width="2.72" height="2.72" fill="rgb(147,147,147)"/>
<rect x="75.94" y="252.24" width="2.72" height="2.72" fill="rgb(122,122,122)"/>
<rect x="78.65" y="252.24" width="2.72" height="2.72" fill="rgb(138,138,138)"/>
<rect x="81.35" y="252.24" width="2.72" height="2.72" fill="rgb(126,126,126)"/>
<rect x="84.05" y="252.24" width="2.72" height="2.72" fill="rgb(131,131,131)"/>
<rect x="86.76" y="252.24" width="2.72" height="2.72" fill="rgb(141,141,141)"/>
<rect x="89.46" y="252.24" width="2.72" height="2.72" fill="rgb(150,150,150)"/>
<rect x="92.16" y="252.24" width="2.72" height="2.72" fill="rgb(143,143,143)"/>
<rect x="94.87" y="252.24" width="2.72" height="2.72" fill="rgb(139,139,139)"/>
<rect x="97.57" y="252.24" width="2.72" height="2.72" fill="rgb(133,133,133)"/>
<rect x="100.28" y="252.24" width="2.72" height="2.72" fill="rgb(136,136,136)"/>
<rect x="102.98" y="252.24" width="2.72" height="2.72" fill="rgb(146,146,146)"/>
<rect x="105.68" y="252.24" width="2.72" height="2.72" fill="rgb(144,144,144)"/>
<rect x="108.39" y="252.24" width="2.72" height="2.72" fill="rgb(163,163,163)"/>
<rect x="111.09" y="252.24" width="2.72" height="2.72" fill="rgb(154,154,154)"/>
<rect x="113.79" y="252.24" width="2.72" height="2.72" fill="rgb(148,148,148)"/>
<rect x="48.91" y="254.94" width="2.72" height="2.72" fill="rgb(27,27,27)"/>
<rect x="51.61" y="254.94" width="2.72" height="2.72" fill="rgb(109,109,109)"/>
<rect x="54.31" y="254.94" width="2.72" height="2.72" fill="rgb(129,129,129)"/>
<rect x="57.02" y="254.94" width="2.72" height="2.72" fill="rgb(144,144,144)"/>
<rect x="59.72" y="254.94" width="2.72" height="2.72" fill="rgb(155,155,155)"/>
<rect x="62.42" y="254.94" width="2.72" height="2.72" fill="rgb(118,118,118)"/>
<rect x="65.13" y="254.94" width="2.72" height="2.72" fill="rgb(139,139,139)"/>
<rect x="67.83" y="254.94" width="2.72" height="2.72" fill="rgb(136,136,136)"/>
<rect x="70.54" y="254.94" width="2.72" height="2.72" fill="rgb(154,154,154)"/>
<rect x="73.24" y="254.94" width="2.72" height="2.72" fill="rgb(150,150,150)"/>
<rect x="75.94" y="254.94" width="2.72" height="2.72" fill="rgb(137,137,137)"/>
<rect x="78.65" y="254.94" width="2.72" height="2.72" fill="rgb(135,135,135)"/>
<rect x="81.35" y="254.94" width="2.72" height="2.72" fill="rgb(142,142,142)"/>
<rect x="84.05" y="254.94" width="2.72" height="2.72" fill="rgb(125,125,125)"/>
<rect x="86.76" y="254.94" width="2.72" height="2.72" fill="rgb(142,142,142)"/>
<rect x="89.46" y="254.94" width="2.72" height="2.72" fill="rgb(142,142,142)"/>
<rect x="92.16" y="254.94" width="2.72" height="2.72" fill="rgb(152,152,152)"/>
<rect x="94.87" y="254.94" width="2.72" height="2.72" fill="rgb(152,152,152)"/>
<rect x="97.57" y="254.94" width="2.72" height="2.72" fill="rgb(140,140,140)"/>
<rect x="100.28" y="254.94" width="2.72" height="2.72" fill="rgb(118,118,118)"/>
<rect x="102.98" y="254.94" width="2.72" height="2.72" fill="rgb(124,124,124)"/>
<rect x="105.68" y="254.94" width="2.72" height="2.72" fill="rgb(162,162,162)"/>
<rect x="108.39" y="254.94" width="2.72" height="2.72" fill="rgb(136,136,136)"/>
<rect x="111.09" y="254.94" width="2.72" height="2.72" fill="rgb(153,153,153)"/>
<rect x="113.79" y="254.94" width="2.72" height="2.72" fill="rgb(155,155,155)"/>
<rect x="46.20" y="257.64" width="2.72" height="2.72" fill="rgb(56,56,56)"/>
<rect x="48.91" y="257.64" width="2.72" height="2.72" fill="rgb(137,137,137)"/>
<rect x="51.61" y="257.64" width="2.72" height="2.72" fill="rgb(150,150,150)"/>
<rect x="54.31" y="257.64" width="2.72" height="2.72" fill="rgb(135,135,135)"/>
<rect x="57.02" y="257.64" width="2.72" height="2.72" fill="rgb(123,123,123)"/>
<rect x="59.72" y="257.64" width="2.72" height="2.72" fill="rgb(138,138,138)"/>
<rect x="62.42" y="257.64" width="2.72" height="2.72" fill="rgb(136,136,136)"/>
<rect x="65.13" y="257.64" width="2.72" height="2.72" fill="rgb(128,128,128)"/>
<rect x="67.83" y="257.64" width="2.72" height="2.72" fill="rgb(129,129,129)"/>
<rect x="70.54" y="257.64" width="2.72" height="2.72" fill="rgb(144,144,144)"/>
<rect x="73.24" y="257.64" width="2.72" height="2.72" fill="rgb(127,127,127)"/>
<rect x="75.94" y="257.64" width="2.72" height="2.72" fill="rgb(134,134,134)"/>
<rect x="78.65" y="257.64" width="2.72" height="2.72" fill="rgb(140,140,140)"/>
<rect x="81.35" y="257.64" width="2.72" height="2.72" fill="rgb(132,132,132)"/>
<rect x="84.05" y="257.64" width="2.72" height="2.72" fill="rgb(146,146,146)"/>
<rect x="86.76" y="257.64" width="2.72" height="2.72" fill="rgb(151,151,151)"/>
<rect x="89.46" y="257.64" width="2.72" height="2.72" fill="rgb(154,154,154)"/>
<rect x="92.16" y="257.64" width="2.72" height="2.72" fill="rgb(129,129,129)"/>
<rect x="94.87" y="257.64" width="2.72" height="2.72" fill="rgb(147,147,147)"/>
<rect x="97.57" y="257.64" width="2.72" height="2.72" fill="rgb(154,154,154)"/>
<rect x="100.28" y="257.64" width="2.72" height="2.72" fill="rgb(125,125,125)"/>
<rect x="102.98" y="257.64" width="2.72" height="2.72" fill="rgb(124,124,124)"/>
<rect x="105.68" y="257.64" width="2.72" height="2.72" fill="rgb(136,136,136)"/>
<rect x="108.39" y="257.64" width="2.72" height="2.72" fill="rgb(153,153,153)"/>
<rect x="111.09" y="257.64" width="2.72" height="2.72" fill="rgb(140,140,140)"/>
<rect x="113.79" y="257.64" width="2.72" height="2.72" fill="rgb(145,145,145)"/>
<rect x="46.20" y="260.33" width="2.72" height="2.72" fill="rgb(169,169,169)"/>
<rect x="48.91" y="260.33" width="2.72" height="2.72" fill="rgb(156,156,156)"/>
<rect x="51.61" y="260.33" width="2.72" height="2.72" fill="rgb(157,157,157)"/>
<rect x="54.31" y="260.33" width="2.72" height="2.72" fill="rgb(167,167,167)"/>
<rect x="57.02" y="260.33" width="2.72" height="2.72" fill="rgb(174,174,174)"/>
<rect x="59.72" y="260.33" width="2.72" height="2.72" fill="rgb(162,162,162)"/>
<rect x="62.42" y="260.33" width="2.72" height="2.72" fill="rgb(169,169,169)"/>
<rect x="65.13" y="260.33" width="2.72" height="2.72" fill="rgb(148,148,148)"/>
<rect x="67.83" y="260.33" width="2.72" height="2.72" fill="rgb(158,158,158)"/>
<rect x="70.54" y="260.33" width="2.72" height="2.72" fill="rgb(167,167,167)"/>
<rect x="73.24" y="260.33" width="2.72" height="2.72" fill="rgb(160,160,160)"/>
<rect x="75.94" y="260.33" width="2.72" height="2.72" fill="rgb(152,152,152)"/>
<rect x="78.65" y="260.33" width="2.72" height="2.72" fill="rgb(156,156,156)"/>
<rect x="81.35" y="260.33" width="2.72" height="2.72" fill="rgb(164,164,164)"/>
<rect x="84.05" y="260.33" width="2.72" height="2.72" fill="rgb(174,174,174)"/>
<rect x="86.76" y="260.33" width="2.72" height="2.72" fill="rgb(164,164,164)"/>
<rect x="89.46" y="260.33" width="2.72" height="2.72" fill="rgb(151,151,151)"/>
<rect x="92.16" y="260.33" width="2.72" height="2.72" fill="rgb(169,169,169)"/>
<rect x="94.87" y="260.33" width="2.72" height="2.72" fill="rgb(157,157,157)"/>
<rect x="97.57" y="260.33" width="2.72" height="2.72" fill="rgb(165,165,165)"/>
<rect x="100.28" y="260.33" width="2.72" height="2.72" fill="rgb(166,166,166)"/>
<rect x="102.98" y="260.33" width="2.72" height="2.72" fill="rgb(173,173,173)"/>
<rect x="105.68" y="260.33" width="2.72" height="2.72" fill="rgb(152,152,152)"/>
<rect x="108.39" y="260.33" width="2.72" height="2.72" fill="rgb(174,174,174)"/>
<rect x="111.09" y="260.33" width="2.72" height="2.72" fill="rgb(156,156,156)"/>
<rect x="113.79" y="260.33" width="2.72" height="2.72" fill="rgb(157,157,157)"/>
<rect x="46.20" y="263.03" width="2.72" height="2.72" fill="rgb(200,200,200)"/>
<rect x="48.91" y="263.03" width="2.72" height="2.72" fill="rgb(221,221,221)"/>
<rect x="51.61" y="263.03" width="2.72" height="2.72" fill="rgb(239,239,239)"/>
<rect x="54.31" y="263.03" width="2.72" height="2.72" fill="rgb(202,202,202)"/>
<rect x="57.02" y="263.03" width="2.72" height="2.72" fill="rgb(207,207,207)"/>
<rect x="59.72" y="263.03" width="2.72" height="2.72" fill="rgb(214,214,214)"/>
<rect x="62.42" y="263.03" width="2.72" height="2.72" fill="rgb(237,237,237)"/>
<rect x="65.13" y="263.03" width="2.72" height="2.72" fill="rgb(216,216,216)"/>
<rect x="67.83" y="263.03" width="2.72" height="2.72" fill="rgb(230,230,230)"/>
<rect x="70.54" y="263.03" width="2.72" height="2.72" fill="rgb(227,227,227)"/>
<rect x="73.24" y="263.03" width="2.72" height="2.72" fill="rgb(211,211,211)"/>
<rect x="75.94" y="263.03" width="2.72" height="2.72" fill="rgb(235,235,235)"/>
<rect x="78.65" y="263.03" width="2.72" height="2.72" fill="rgb(233,233,233)"/>
<rect x="81.35" y="263.03" width="2.72" height="2.72" fill="rgb(209,209,209)"/>
<rect x="84.05" y="263.03" width="2.72" height="2.72" fill="rgb(226,226,226)"/>
<rect x="86.76" y="263.03" width="2.72" height="2.72" fill="rgb(215,215,215)"/>
<rect x="89.46" y="263.03" width="2.72" height="2.72" fill="rgb(228,228,228)"/>
<rect x="92.16" y="263.03" width="2.72" height="2.72" fill="rgb(204,204,204)"/>
<rect x="94.87" y="263.03" width="2.72" height="2.72" fill="rgb(239,239,239)"/>
<rect x="97.57" y="263.03" width="2.72" height="2.72" fill="rgb(219,219,219)"/>
<rect x="100.28" y="263.03" width="2.72" height="2.72" fill="rgb(214,214,214)"/>
<rect x="102.98" y="263.03" width="2.72" height="2.72" fill="rgb(239,239,239)"/>
<rect x="105.68" y="263.03" width="2.72" height="2.72" fill="rgb(203,203,203)"/>
<rect x="108.39" y="263.03" width="2.72" height="2.72" fill="rgb(226,226,226)"/>
<rect x="111.09" y="263.03" width="2.72" height="2.72" fill="rgb(210,210,210)"/>
<rect x="113.79" y="263.03" width="2.72" height="2.72" fill="rgb(227,227,227)"/>
<rect x="51.61" y="265.73" width="2.72" height="2.72" fill="rgb(236,236,236)"/>
<rect x="54.31" y="265.73" width="2.72" height="2.72" fill="rgb(231,231,231)"/>
<rect x="57.02" y="265.73" width="2.72" height="2.72" fill="rgb(239,239,239)"/>
<rect x="59.72" y="265.73" width="2.72" height="2.72" fill="rgb(235,235,235)"/>
<rect x="62.42" y="265.73" width="2.72" height="2.72" fill="rgb(229,229,229)"/>
<rect x="65.13" y="265.73" width="2.72" height="2.72" fill="rgb(212,212,212)"/>
<rect x="67.83" y="265.73" width="2.72" height="2.72" fill="rgb(232,232,232)"/>
<rect x="70.54" y="265.73" width="2.72" height="2.72" fill="rgb(229,229,229)"/>
<rect x="73.24" y="265.73" width="2.72" height="2.72" fill="rgb(190,190,190)"/>
<rect x="75.94" y="265.73" width="2.72" height="2.72" fill="rgb(148,148,148)"/>
<rect x="78.65" y="265.73" width="2.72" height="2.72" fill="rgb(158,158,158)"/>
<rect x="81.35" y="265.73" width="2.72" height="2.72" fill="rgb(135,135,135)"/>
<rect x="84.05" y="265.73" width="2.72" height="2.72" fill="rgb(150,150,150)"/>
<rect x="86.76" y="265.73" width="2.72" height="2.72" fill="rgb(141,141,141)"/>
<rect x="97.57" y="265.73" width="2.72" height="2.72" fill="rgb(234,234,234)"/>
<rect x="100.28" y="265.73" width="2.72" height="2.72" fill="rgb(206,206,206)"/>
<rect x="102.98" y="265.73" width="2.72" height="2.72" fill="rgb(180,180,180)"/>
<rect x="105.68" y="265.73" width="2.72" height="2.72" fill="rgb(205,205,205)"/>
<rect x="108.39" y="265.73" width="2.72" height="2.72" fill="rgb(203,203,203)"/>
<rect x="111.09" y="265.73" width="2.72" height="2.72" fill="rgb(199,199,199)"/>
<rect x="113.79" y="265.73" width="2.72" height="2.72" fill="rgb(220,220,220)"/>
</g>
</g>
<text x="14.30" y="346.80" font-size="21" class="ar" font-weight="bold">b</text>
<text x="139.10" y="355.00" font-size="18" class="cc" textLength="200.40" lengthAdjust="spacingAndGlyphs">Non-negative Constrained</text>
<rect x="62.85" y="409.44" width="19.90" height="162.56" fill="#D0EEEF" stroke="#1c1c1c" stroke-width="1.5"/>
<rect x="90.55" y="410.43" width="19.90" height="161.57" fill="#C5E0F6" stroke="#1c1c1c" stroke-width="1.5"/>
<rect x="118.25" y="425.16" width="19.90" height="146.84" fill="#E2DEF5" stroke="#1c1c1c" stroke-width="1.5"/>
<rect x="155.30" y="399.25" width="19.90" height="172.75" fill="#D0EEEF" stroke="#1c1c1c" stroke-width="1.5"/>
<rect x="183.00" y="401.47" width="19.90" height="170.53" fill="#C5E0F6" stroke="#1c1c1c" stroke-width="1.5"/>
<rect x="210.70" y="406.42" width="19.90" height="165.58" fill="#E2DEF5" stroke="#1c1c1c" stroke-width="1.5"/>
<rect x="247.75" y="458.20" width="19.90" height="113.80" fill="#D0EEEF" stroke="#1c1c1c" stroke-width="1.5"/>
<rect x="275.45" y="458.44" width="19.90" height="113.56" fill="#C5E0F6" stroke="#1c1c1c" stroke-width="1.5"/>
<rect x="303.15" y="462.64" width="19.90" height="109.36" fill="#E2DEF5" stroke="#1c1c1c" stroke-width="1.5"/>
<rect x="340.20" y="454.80" width="19.90" height="117.20" fill="#D0EEEF" stroke="#1c1c1c" stroke-width="1.5"/>
<rect x="367.90" y="455.09" width="19.90" height="116.91" fill="#C5E0F6" stroke="#1c1c1c" stroke-width="1.5"/>
<rect x="395.60" y="456.17" width="19.90" height="115.83" fill="#E2DEF5" stroke="#1c1c1c" stroke-width="1.5"/>
<line x1="45" y1="359.4" x2="45" y2="572" stroke="#B0B0B0" stroke-width="1.5"/>
<line x1="44.3" y1="359.4" x2="433.6" y2="359.4" stroke="#444" stroke-width="1.1"/>
<line x1="433.3" y1="359.4" x2="433.3" y2="572.5" stroke="#444" stroke-width="1.1"/>
<line x1="42" y1="572.2" x2="433.8" y2="572.2" stroke="#555" stroke-width="1.3"/>
<line x1="42" y1="383.2" x2="45" y2="383.2" stroke="#555" stroke-width="1.1"/>
<line x1="100.50" y1="572" x2="100.50" y2="575" stroke="#555" stroke-width="1.1"/>
<line x1="192.95" y1="572" x2="192.95" y2="575" stroke="#555" stroke-width="1.1"/>
<line x1="285.40" y1="572" x2="285.40" y2="575" stroke="#555" stroke-width="1.1"/>
<line x1="377.85" y1="572" x2="377.85" y2="575" stroke="#555" stroke-width="1.1"/>
<text x="15.00" y="388.80" font-size="16.5" class="cc" textLength="24.80" lengthAdjust="spacingAndGlyphs">100</text>
<text x="23.20" y="577.50" font-size="16.5" class="cc" textLength="16.20" lengthAdjust="spacingAndGlyphs">60</text>
<text class="ar" font-size="14.3" text-anchor="middle" transform="translate(25.3,465.7) rotate(-90)" textLength="81.5" lengthAdjust="spacingAndGlyphs">Accuracy (%)</text>
<text x="49.60" y="403.75" font-size="15.6" class="cc" textLength="32.55" lengthAdjust="spacingAndGlyphs">94.44</text>
<text x="83.35" y="406.75" font-size="15.6" class="cc" textLength="32.55" lengthAdjust="spacingAndGlyphs">94.23</text>
<text x="117.10" y="423.00" font-size="15.6" class="cc" textLength="32.55" lengthAdjust="spacingAndGlyphs">91.11</text>
<text x="142.10" y="393.75" font-size="15.6" class="cc" textLength="32.55" lengthAdjust="spacingAndGlyphs">96.60</text>
<text x="175.85" y="397.50" font-size="15.6" class="cc" textLength="32.55" lengthAdjust="spacingAndGlyphs">96.13</text>
<text x="209.10" y="404.80" font-size="15.6" class="cc" textLength="33.05" lengthAdjust="spacingAndGlyphs">95.08</text>
<text x="234.40" y="452.50" font-size="15.6" class="cc" textLength="32.00" lengthAdjust="spacingAndGlyphs">84.11</text>
<text x="268.60" y="454.30" font-size="15.6" class="cc" textLength="32.30" lengthAdjust="spacingAndGlyphs">84.06</text>
<text x="301.60" y="460.00" font-size="15.6" class="cc" textLength="32.55" lengthAdjust="spacingAndGlyphs">83.17</text>
<text x="327.10" y="448.60" font-size="15.6" class="cc" textLength="32.55" lengthAdjust="spacingAndGlyphs">84.83</text>
<text x="360.85" y="451.20" font-size="15.6" class="cc" textLength="32.55" lengthAdjust="spacingAndGlyphs">84.77</text>
<text x="394.60" y="454.00" font-size="15.6" class="cc" textLength="32.80" lengthAdjust="spacingAndGlyphs">84.54</text>
<rect x="265.35" y="373.85" width="30.70" height="10.30" fill="#D0EEEF" stroke="#1c1c1c" stroke-width="1.5"/>
<text x="308.90" y="384.30" font-size="16.2" class="cc" textLength="70.80" lengthAdjust="spacingAndGlyphs">GPU-based</text>
<rect x="265.35" y="396.05" width="30.70" height="9.80" fill="#C5E0F6" stroke="#1c1c1c" stroke-width="1.5"/>
<text x="308.90" y="406.30" font-size="16.2" class="cc" textLength="110.90" lengthAdjust="spacingAndGlyphs">Our Results (Sim)</text>
<rect x="265.35" y="417.85" width="30.70" height="10.00" fill="#E2DEF5" stroke="#1c1c1c" stroke-width="1.5"/>
<text x="308.90" y="427.50" font-size="16.2" class="cc" textLength="109.90" lengthAdjust="spacingAndGlyphs">Our Results (Exp)</text>
<text x="63.45" y="588.80" font-size="16.6" class="cc" textLength="75.10" lengthAdjust="spacingAndGlyphs">CNN-MNIST</text>
<text x="160.30" y="588.80" font-size="16.6" class="cc" textLength="68.10" lengthAdjust="spacingAndGlyphs">ViT-MNIST</text>
<text x="244.70" y="588.80" font-size="16.6" class="cc" textLength="82.30" lengthAdjust="spacingAndGlyphs">CNN-FMNIST</text>
<text x="341.40" y="588.80" font-size="16.6" class="cc" textLength="74.50" lengthAdjust="spacingAndGlyphs">ViT-FMNIST</text>
<text x="442.80" y="346.80" font-size="21" class="ar" font-weight="bold">c</text>
<text x="570.30" y="355.00" font-size="18" class="cc" textLength="114.00" lengthAdjust="spacingAndGlyphs">Unconstrained</text>
<rect x="476.10" y="396.75" width="24.40" height="175.25" fill="#D0EEEF" stroke="#1c1c1c" stroke-width="1.5"/>
<rect x="507.50" y="393.82" width="24.40" height="178.18" fill="#C5E0F6" stroke="#1c1c1c" stroke-width="1.5"/>
<rect x="558.35" y="402.17" width="24.40" height="169.83" fill="#D0EEEF" stroke="#1c1c1c" stroke-width="1.5"/>
<rect x="589.75" y="399.81" width="24.40" height="172.19" fill="#C5E0F6" stroke="#1c1c1c" stroke-width="1.5"/>
<rect x="640.60" y="440.26" width="24.40" height="131.74" fill="#D0EEEF" stroke="#1c1c1c" stroke-width="1.5"/>
<rect x="672.00" y="440.12" width="24.40" height="131.88" fill="#C5E0F6" stroke="#1c1c1c" stroke-width="1.5"/>
<rect x="722.85" y="457.16" width="24.40" height="114.84" fill="#D0EEEF" stroke="#1c1c1c" stroke-width="1.5"/>
<rect x="754.25" y="456.12" width="24.40" height="115.88" fill="#C5E0F6" stroke="#1c1c1c" stroke-width="1.5"/>
<line x1="460.8" y1="359.4" x2="460.8" y2="572" stroke="#9A9A9A" stroke-width="1.3"/>
<line x1="460.3" y1="359.4" x2="795" y2="359.4" stroke="#444" stroke-width="1.1"/>
<line x1="794.5" y1="359.4" x2="794.5" y2="572.5" stroke="#444" stroke-width="1.1"/>
<line x1="460.3" y1="572.2" x2="795" y2="572.2" stroke="#555" stroke-width="1.3"/>
<line x1="504.00" y1="572" x2="504.00" y2="575" stroke="#555" stroke-width="1.1"/>
<line x1="586.25" y1="572" x2="586.25" y2="575" stroke="#555" stroke-width="1.1"/>
<line x1="668.50" y1="572" x2="668.50" y2="575" stroke="#555" stroke-width="1.1"/>
<line x1="750.75" y1="572" x2="750.75" y2="575" stroke="#555" stroke-width="1.1"/>
<text x="468.85" y="393.75" font-size="15.6" class="cc" textLength="32.80" lengthAdjust="spacingAndGlyphs">97.13</text>
<text x="505.85" y="390.75" font-size="15.6" class="cc" textLength="32.55" lengthAdjust="spacingAndGlyphs">97.75</text>
<text x="551.35" y="399.25" font-size="15.6" class="cc" textLength="32.80" lengthAdjust="spacingAndGlyphs">95.98</text>
<text x="588.35" y="396.25" font-size="15.6" class="cc" textLength="32.55" lengthAdjust="spacingAndGlyphs">96.48</text>
<text x="633.85" y="436.75" font-size="15.6" class="cc" textLength="32.30" lengthAdjust="spacingAndGlyphs">87.91</text>
<text x="670.85" y="436.75" font-size="15.6" class="cc" textLength="32.05" lengthAdjust="spacingAndGlyphs">87.94</text>
<text x="716.35" y="453.25" font-size="15.6" class="cc" textLength="32.30" lengthAdjust="spacingAndGlyphs">84.33</text>
<text x="752.85" y="452.50" font-size="15.6" class="cc" textLength="32.55" lengthAdjust="spacingAndGlyphs">84.55</text>
<rect x="625.75" y="373.85" width="31.50" height="10.30" fill="#D0EEEF" stroke="#1c1c1c" stroke-width="1.5"/>
<text x="669.90" y="384.50" font-size="16.2" class="cc" textLength="70.40" lengthAdjust="spacingAndGlyphs">GPU-based</text>
<rect x="625.75" y="396.05" width="31.50" height="9.80" fill="#C5E0F6" stroke="#1c1c1c" stroke-width="1.5"/>
<text x="669.90" y="406.30" font-size="16.2" class="cc" textLength="110.40" lengthAdjust="spacingAndGlyphs">Our Results (Sim)</text>
<text x="465.35" y="588.80" font-size="16.6" class="cc" textLength="76.20" lengthAdjust="spacingAndGlyphs">CNN-MNIST</text>
<text x="552.20" y="588.80" font-size="16.6" class="cc" textLength="68.10" lengthAdjust="spacingAndGlyphs">ViT-MNIST</text>
<text x="626.50" y="588.80" font-size="16.6" class="cc" textLength="84.80" lengthAdjust="spacingAndGlyphs">CNN-FMNIST</text>
<text x="712.90" y="588.80" font-size="16.6" class="cc" textLength="75.30" lengthAdjust="spacingAndGlyphs">ViT-FMNIST</text>
</svg></body></html>
